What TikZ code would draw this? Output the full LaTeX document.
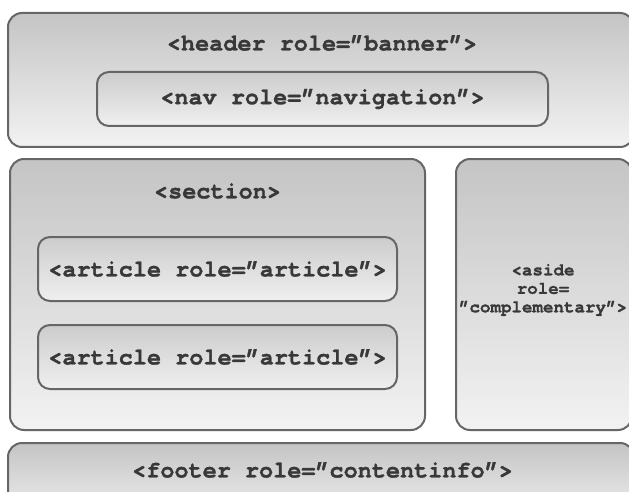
\documentclass[tikz,border=0pt]{standalone}
\usepackage{fontspec}
\setmonofont[BoldFeatures={FakeBold=1.2}]{TeX Gyre Cursor}
\begin{document}
\begin{tikzpicture}[x=1pt,y=-1pt,
  outerbox/.style={draw=black!60, line width=2pt, rounded corners=14pt,
    top color=black!23, bottom color=black!5, inner sep=0pt},
  innerbox/.style={draw=black!60, line width=2pt, rounded corners=12pt,
    top color=black!20, bottom color=black!6, inner sep=0pt},
  lbl/.style={font=\ttfamily\bfseries\fontsize{23.5}{27}\selectfont, text=black!78, inner sep=0pt},
  slbl/.style={font=\ttfamily\bfseries\fontsize{17.5}{18.5}\selectfont, text=black!78, inner sep=0pt, align=center}]
\clip (0,0) rectangle (629,492);
\fill[white] (0,0) rectangle (629,492);
% header
\node[outerbox, minimum width=626pt, minimum height=134pt] (header) at (321,80) {};
\node[lbl] (headert) at (322,43) {<header role=”banner”>};
\node[innerbox, minimum width=451pt, minimum height=54pt] (nav) at (322.5,99) {};
\node[lbl] (navt) at (322.5,99) {<nav role=”navigation”>};
% section
\node[outerbox, minimum width=415pt, minimum height=271pt] (section) at (217.5,294.5) {};
\node[lbl] (sectiont) at (217.5,191) {<section>};
\node[innerbox, minimum width=359pt, minimum height=64pt] (art1) at (217.5,269) {};
\node[lbl] (art1t) at (217.5,269) {<article role=”article”>};
\node[innerbox, minimum width=359pt, minimum height=64pt] (art2) at (217.5,357) {};
\node[lbl] (art2t) at (217.5,357) {<article role=”article”>};
% aside
\node[outerbox, minimum width=176pt, minimum height=271pt] (aside) at (544,294.5) {};
\node[slbl] (asidet) at (543,290) {<aside\\role=\\”complementary”>};
% footer
\node[outerbox, minimum width=626pt, minimum height=80pt] (footer) at (321,483) {};
\node[lbl] (footert) at (322.5,470) {<footer role=”contentinfo”>};
\end{tikzpicture}
\end{document}
